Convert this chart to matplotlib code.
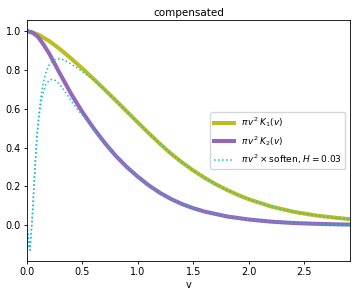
import matplotlib
matplotlib.use("Agg")
import matplotlib.pyplot as plt

# values
v_k1 = [0.0, 0.1, 0.2, 0.3, 0.4, 0.5, 0.6, 0.7, 0.8, 0.9, 1.0, 1.1, 1.2, 1.3,
        1.4, 1.5, 1.6, 1.7, 1.8, 1.9, 2.0, 2.2, 2.4, 2.6, 2.8, 2.91]
k1 = [1.0, 0.983, 0.949, 0.906, 0.858, 0.807, 0.754, 0.699, 0.643, 0.586,
      0.529, 0.473, 0.419, 0.368, 0.323, 0.282, 0.245, 0.212, 0.183, 0.157,
      0.134, 0.097, 0.070, 0.051, 0.038, 0.032]

v_k2 = [0.0, 0.05, 0.1, 0.15, 0.2, 0.3, 0.4, 0.5, 0.6, 0.7, 0.8, 0.9, 1.0,
        1.1, 1.2, 1.3, 1.4, 1.5, 1.6, 1.8, 2.0, 2.2, 2.4, 2.6, 2.8, 2.91]
k2 = [1.0, 0.993, 0.97, 0.93, 0.885, 0.778, 0.675, 0.583, 0.5, 0.425, 0.358,
      0.3, 0.25, 0.205, 0.167, 0.135, 0.109, 0.088, 0.071, 0.046, 0.03,
      0.019, 0.012, 0.008, 0.005, 0.004]

# softened versions (H = 0.03)
v_s1 = [0.0, 0.01, 0.02, 0.027, 0.033, 0.042, 0.052, 0.062, 0.072, 0.082,
        0.093, 0.108, 0.123, 0.144, 0.168, 0.198, 0.23, 0.26, 0.29, 0.33,
        0.363, 0.453, 0.514, 0.6, 0.7, 0.8, 0.9, 1.0, 1.1, 1.2, 1.3, 1.4,
        1.5, 1.6, 1.7, 1.8, 1.9, 2.0, 2.2, 2.4, 2.6, 2.8, 2.91]
s1 = [0.0, -0.06, -0.11, -0.127, -0.08, -0.005, 0.085, 0.19, 0.295, 0.39,
      0.48, 0.57, 0.65, 0.727, 0.783, 0.825, 0.846, 0.855, 0.857, 0.852,
      0.843, 0.81, 0.785, 0.75, 0.698, 0.643, 0.586, 0.529, 0.473, 0.419,
      0.368, 0.323, 0.282, 0.245, 0.212, 0.183, 0.157, 0.134, 0.097, 0.070,
      0.051, 0.038, 0.032]

v_s2 = [0.0, 0.01, 0.02, 0.027, 0.033, 0.042, 0.052, 0.062, 0.072, 0.082,
        0.093, 0.099, 0.117, 0.138, 0.168, 0.2, 0.228, 0.26, 0.301, 0.363,
        0.4, 0.453, 0.514, 0.6, 0.7, 0.8, 0.9, 1.0, 1.1, 1.2, 1.3, 1.4, 1.5,
        1.6, 1.8, 2.0, 2.2, 2.4, 2.6, 2.8, 2.91]
s2 = [0.0, -0.06, -0.11, -0.127, -0.08, -0.005, 0.085, 0.19, 0.295, 0.39,
      0.48, 0.515, 0.60, 0.668, 0.722, 0.747, 0.752, 0.745, 0.722, 0.673,
      0.64, 0.598, 0.557, 0.495, 0.425, 0.358, 0.3, 0.25, 0.205, 0.167,
      0.135, 0.109, 0.088, 0.071, 0.046, 0.03, 0.019, 0.012, 0.008, 0.005,
      0.004]

plt.rcParams['font.size'] = 7

fig = plt.figure(figsize=(3.57, 2.95), dpi=100)
ax = fig.add_axes([0.0756, 0.115, 0.9044, 0.817])

ax.plot(v_k1, k1, color='tab:olive', lw=2.9, label=r'$\pi\,v^2\,K_1(v)$')
ax.plot(v_k2, k2, color='tab:purple', lw=2.9, label=r'$\pi\,v^2\,K_2(v)$')
ax.plot(v_s1, s1, color='tab:cyan', lw=1.1, ls=':',
        label=r'$\pi\,v^2\times$soften, $H=0.03$')
ax.plot(v_s2, s2, color='tab:cyan', lw=1.1, ls=':')

ax.set_xlim(0, 2.91)
ax.set_ylim(-0.184, 1.057)
ax.set_xticks([0.0, 0.5, 1.0, 1.5, 2.0, 2.5])
ax.set_yticks([0.0, 0.2, 0.4, 0.6, 0.8, 1.0])
ax.tick_params(length=2.5, width=0.6, pad=2)
for s in ax.spines.values():
    s.set_linewidth(0.6)

ax.set_xlabel('v', labelpad=2)
ax.set_title('compensated', fontsize=7.5, pad=3)
ax.legend(loc='center right', fontsize=6.5, handlelength=2.2)

fig.savefig('out.png', dpi=100)
